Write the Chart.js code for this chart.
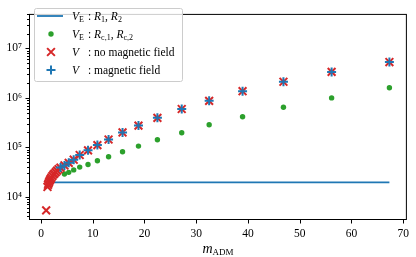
<!DOCTYPE html>
<html>
<head>
<meta charset="utf-8">
<script src="https://cdn.jsdelivr.net/npm/chart.js@4.4.1/dist/chart.umd.min.js"></script>
<style>
  body { margin: 0; background: #fff; }
  #wrap { position: relative; width: 416px; height: 257px; }
  .leg { position: absolute; font-family: "Liberation Serif", serif; font-size: 11.5px; color: #000; line-height: 14px; white-space: nowrap; transform: translateY(-50%); }
  .leg sub, .xt sub { font-size: 8px; vertical-align: -2px; line-height: 0; }
  .xt { position: absolute; left: 29px; width: 378px; top: 241px; text-align: center; font-family: "Liberation Serif", serif; font-size: 14px; line-height: 16px; }
  .xt sub { font-size: 9px; }
</style>
</head>
<body>
<div id="wrap">
  <canvas id="chart" width="416" height="257"></canvas>
  <div class="leg" style="left:72px;top:16px"><i>V</i><sub>E</sub></div>
  <div class="leg" style="left:88px;top:16px">: <i>R</i><sub>1</sub>, <i>R</i><sub>2</sub></div>
  <div class="leg" style="left:72px;top:34px"><i>V</i><sub>E</sub></div>
  <div class="leg" style="left:88px;top:34px">: <i>R</i><sub>c,1</sub>, <i>R</i><sub>c,2</sub></div>
  <div class="leg" style="left:72px;top:52px"><i>V</i></div>
  <div class="leg" style="left:88px;top:52px">: no magnetic field</div>
  <div class="leg" style="left:72px;top:70px"><i>V</i></div>
  <div class="leg" style="left:88px;top:70px">: magnetic field</div>
  <div class="xt"><i>m</i><sub>ADM</sub></div>
</div>
<script>
// m_ADM values for the V points (no magnetic field)
var mNoField = [1.0, 1.25, 1.35, 1.45, 1.58, 1.7, 1.85, 2.0, 2.2, 2.4, 2.6, 2.85, 3.1, 3.4, 3.76, 4.53, 5.36, 6.32, 7.48, 9.09, 10.9, 13.06, 15.76, 18.84, 22.5, 27.2, 32.5, 38.96, 46.86, 56.17, 67.34];
var vNoField = [5300, 15800, 17400, 18600, 20000, 21400, 22900, 24500, 26300, 28200, 29500, 31600, 33900, 36300, 38900, 43000, 48600, 56200, 70000, 87000, 111000, 144000, 200000, 275000, 395000, 596000, 871000, 1365000, 2120000, 3350000, 5310000];

// V with magnetic field
var mField = [3.76, 4.53, 5.36, 6.32, 7.48, 9.09, 10.9, 13.06, 15.76, 18.84, 22.5, 27.2, 32.5, 38.96, 46.86, 56.17, 67.34];
var vField = [38900, 43000, 48600, 56200, 70000, 87000, 111000, 144000, 200000, 275000, 395000, 596000, 871000, 1365000, 2120000, 3350000, 5310000];

// V_E for R_c,1 / R_c,2
var mRc = [4.53, 5.36, 6.32, 7.48, 9.09, 10.9, 13.06, 15.76, 18.84, 22.5, 27.2, 32.5, 38.96, 46.86, 56.17, 67.34];
var vRc = [28800, 31200, 35000, 39800, 45100, 53700, 64600, 81300, 105900, 142600, 196800, 285800, 416900, 645700, 1000000, 1607000];

// V_E for R_1 / R_2 (flat)
var mR = [1.0, 67.34];
var vR = [19500, 19500];

var xTicks = [0, 10, 20, 30, 40, 50, 60, 70];
var yDecades = [3, 4, 5, 6, 7];

var BLUE = "#1f77b4", GREEN = "#2ca02c", RED = "#d62728";

function pts(xs, ys) {
  return xs.map(function (x, i) { return { x: x, y: ys[i] }; });
}

var SUP = { "0": "\u2070", "1": "\u00b9", "2": "\u00b2", "3": "\u00b3", "4": "\u2074", "5": "\u2075", "6": "\u2076", "7": "\u2077", "8": "\u2078", "9": "\u2079" };

function powLabel(v) {
  var e = Math.log10(v);
  if (Math.abs(e - Math.round(e)) > 1e-9) return "";
  return "10" + String(Math.round(e)).split("").map(function (c) { return SUP[c]; }).join("");
}

var framePlugin = {
  id: "frame",
  afterDraw: function (chart) {
    var ctx = chart.ctx, a = chart.chartArea;
    var xs = chart.scales.x, ys = chart.scales.y;
    ctx.save();
    ctx.strokeStyle = "#000";
    ctx.lineWidth = 1;
    ctx.strokeRect(a.left + 0.5, a.top + 0.5, a.right - a.left - 1, a.bottom - a.top - 1);

    ctx.beginPath();
    xTicks.forEach(function (t) {
      var px = Math.round(xs.getPixelForValue(t)) + 0.5;
      ctx.moveTo(px, a.bottom);
      ctx.lineTo(px, a.bottom + 3.5);
    });
    yDecades.forEach(function (e) {
      for (var m = 1; m <= 9; m++) {
        var v = m * Math.pow(10, e);
        if (v < ys.min || v > ys.max) continue;
        var py = Math.round(ys.getPixelForValue(v)) + 0.5;
        ctx.moveTo(a.left, py);
        ctx.lineTo(a.left - (m === 1 ? 3.5 : 2), py);
      }
    });
    ctx.stroke();

    // legend box
    ctx.fillStyle = "rgba(255,255,255,0.8)";
    ctx.strokeStyle = "#cccccc";
    ctx.beginPath();
    ctx.roundRect(34.5, 8.5, 148, 73, 2);
    ctx.fill();
    ctx.stroke();

    ctx.strokeStyle = BLUE;
    ctx.lineWidth = 1.8;
    ctx.beginPath();
    ctx.moveTo(37, 16);
    ctx.lineTo(63, 16);
    ctx.stroke();

    ctx.fillStyle = GREEN;
    ctx.strokeStyle = GREEN;
    ctx.lineWidth = 1;
    Chart.helpers.drawPoint(ctx, { pointStyle: "circle", radius: 2.7, rotation: 0, borderWidth: 0 }, 51, 34);
    ctx.strokeStyle = RED;
    ctx.lineWidth = 2;
    Chart.helpers.drawPoint(ctx, { pointStyle: "crossRot", radius: 5.5, rotation: 0, borderWidth: 2 }, 51, 52);
    ctx.strokeStyle = BLUE;
    Chart.helpers.drawPoint(ctx, { pointStyle: "cross", radius: 4.5, rotation: 0, borderWidth: 2 }, 51, 70);
    ctx.restore();
  }
};

var ctx = document.getElementById("chart").getContext("2d");
var chart = new Chart(ctx, {
  type: "scatter",
  data: {
    datasets: [
      {
        label: "VE R1 R2",
        data: pts(mR, vR),
        showLine: true,
        borderColor: BLUE,
        borderWidth: 1.8,
        pointRadius: 0,
        order: 4
      },
      {
        label: "VE Rc1 Rc2",
        data: pts(mRc, vRc),
        pointStyle: "circle",
        pointRadius: 2.7,
        pointBorderWidth: 0,
        backgroundColor: GREEN,
        borderColor: GREEN,
        order: 3
      },
      {
        label: "V no magnetic field",
        data: pts(mNoField, vNoField),
        pointStyle: "crossRot",
        pointRadius: 5.5,
        pointBorderWidth: 2,
        borderColor: RED,
        backgroundColor: RED,
        order: 2
      },
      {
        label: "V magnetic field",
        data: pts(mField, vField),
        pointStyle: "cross",
        pointRadius: 4.5,
        pointBorderWidth: 2,
        borderColor: BLUE,
        backgroundColor: BLUE,
        order: 1
      }
    ]
  },
  options: {
    responsive: false,
    animation: false,
    layout: { padding: { top: 3, right: 9, left: 0, bottom: 0 } },
    plugins: { legend: { display: false }, tooltip: { enabled: false } },
    scales: {
      x: {
        type: "linear",
        min: -2.32,
        max: 70.72,
        grid: { display: false, drawTicks: false },
        border: { display: false },
        ticks: {
          stepSize: 10,
          includeBounds: false,
          autoSkip: false,
          maxRotation: 0,
          padding: 7,
          color: "#000",
          font: { family: "'Liberation Serif', serif", size: 11.5 }
        },
        afterFit: function (s) { s.height = 37; }
      },
      y: {
        type: "logarithmic",
        min: 3390,
        max: 50000000,
        grid: { display: false, drawTicks: false },
        border: { display: false },
        ticks: {
          autoSkip: false,
          padding: 7,
          color: "#000",
          font: { family: "'Liberation Serif', serif", size: 11.5 },
          callback: function (v) { return powLabel(v); }
        },
        afterFit: function (s) { s.width = 29; }
      }
    }
  },
  plugins: [framePlugin]
});
</script>
</body>
</html>
